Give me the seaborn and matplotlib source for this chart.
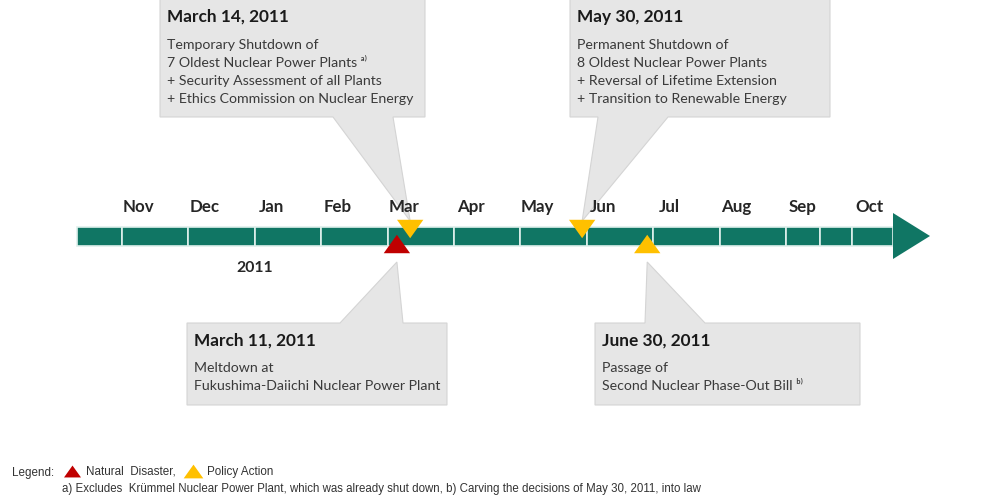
import numpy as np
import pandas as pd
import matplotlib
matplotlib.use("Agg")
import matplotlib.pyplot as plt
from matplotlib.patches import Polygon
import seaborn as sns

# timeline months (Nov 2010 .. Oct 2011)
months = ["Nov", "Dec", "Jan", "Feb", "Mar", "Apr", "May", "Jun", "Jul", "Aug", "Sep", "Oct"]
year_label = "2011"

# events, position in months from start of Nov 2010
event_dates = ["March 11, 2011", "March 14, 2011", "May 30, 2011", "June 30, 2011"]
event_types = ["Natural Disaster", "Policy Action", "Policy Action", "Policy Action"]
event_pos = [4.14, 4.34, 6.93, 7.91]
event_dir = ["up", "down", "down", "up"]

event_text = [
    ["Meltdown at", "Fukushima-Daiichi Nuclear Power Plant"],
    ["Temporary Shutdown of", "7 Oldest Nuclear Power Plants \u1d43\u207e",
     "+ Security Assessment of all Plants", "+ Ethics Commission on Nuclear Energy"],
    ["Permanent Shutdown of", "8 Oldest Nuclear Power Plants",
     "+ Reversal of Lifetime Extension", "+ Transition to Renewable Energy"],
    ["Passage of", "Second Nuclear Phase-Out Bill \u1d47\u207e"],
]

footnote = ("a) Excludes  Krümmel Nuclear Power Plant, which was already shut down, "
            "b) Carving the decisions of May 30, 2011, into law")

colors = {"Natural Disaster": "#c00000", "Policy Action": "#ffc000"}
teal = "#107664"
box_fc = "#e6e6e6"

sns.set_style("white")
plt.rcParams["font.family"] = ["Lato", "DejaVu Sans"]

W, H = 982, 504
PX = 66.4       # pixels per month
X0 = 122        # pixel of Nov start


def m(px):
    return (px - X0) / PX


fig = plt.figure(figsize=(W / 100, H / 100), dpi=100)
ax = fig.add_axes([0, 0, 1, 1])
ax.set_xlim(m(0), m(W))
ax.set_ylim(H, 0)
ax.axis("off")

# timeline bar segments
edges = [m(77)] + list(range(len(months))) + [m(893)]
edges = sorted(edges + [10.51])
ax.barh([236] * (len(edges) - 1), np.diff(edges), left=edges[:-1], height=19,
        color=teal, edgecolor="#dff0ec", linewidth=1.2)
ax.add_patch(Polygon([(m(893), 213), (m(930), 236), (m(893), 259)],
                     closed=True, fc=teal, ec="none"))

for i, lab in enumerate(months):
    ax.text(i + 0.25, 207, lab, ha="center", va="center", fontsize=12.2,
            fontweight="bold", color="#262626")
ax.text(m(255), 268, year_label, ha="center", va="center", fontsize=11.3,
        fontweight="bold", color="#262626")

# callout boxes: (left, right, top, bottom, pointer base x0, x1, tip y)
layout = [
    (187, 447, 323, 405, 340, 403, 262),
    (160, 425, -2, 117, 333, 393, 221),
    (570, 830, -2, 117, 598, 668, 221),
    (595, 860, 323, 405, 645, 705, 262),
]
for k, (l, r, t, b, p0, p1, ty) in enumerate(layout):
    tip = event_pos[k]
    if t < 200:
        pts = [(l, t), (r, t), (r, b), (p1, b), (None, ty), (p0, b), (l, b)]
    else:
        pts = [(l, t), (p0, t), (None, ty), (p1, t), (r, t), (r, b), (l, b)]
    pts = [(tip if x is None else m(x), y) for x, y in pts]
    ax.add_patch(Polygon(pts, closed=True, fc=box_fc, ec="#d4d4d4", lw=0.8, zorder=1))
    ax.text(m(l + 7), t + 18 if t > 0 else 17, event_dates[k], ha="left", va="center",
            fontsize=12.4, fontweight="bold", color="#1a1a1a", zorder=2)
    y0 = (t + 45) if t > 0 else 45
    for j, line in enumerate(event_text[k]):
        ax.text(m(l + 7), y0 + 18 * j, line, ha="left", va="center",
                fontsize=10.2, color="#3a3a3a", zorder=2)

# event markers
up = [(-1, -0.7), (1, -0.7), (0, 0.7)]
down = [(-1, 0.7), (1, 0.7), (0, -0.7)]
ev = pd.DataFrame({"pos": event_pos, "type": event_types, "dir": event_dir})
ev["y"] = np.where(ev["dir"] == "up", 244, 229)
sns.scatterplot(data=ev, x="pos", y="y", hue="type", palette=colors, style="dir",
                markers={"up": up, "down": down}, s=360, linewidth=0,
                legend=False, ax=ax, zorder=5)

# legend and footnote
lf = ["Liberation Sans", "DejaVu Sans"]
tc = "#333333"
ax.text(m(12), 473, "Legend:", fontsize=8.4, family=lf, va="center", color=tc)
ax.scatter([m(72)], [471], marker=up, s=150, color=colors["Natural Disaster"], lw=0)
ax.text(m(86), 472, "Natural  Disaster,", fontsize=8.4, family=lf, va="center", color=tc)
ax.scatter([m(193)], [471], marker=up, s=200, color=colors["Policy Action"], lw=0)
ax.text(m(207), 472, "Policy Action", fontsize=8.4, family=lf, va="center", color=tc)
ax.text(m(62), 489, footnote, fontsize=8.3, family=lf, va="center", color=tc)

fig.savefig("out.png", dpi=100)
